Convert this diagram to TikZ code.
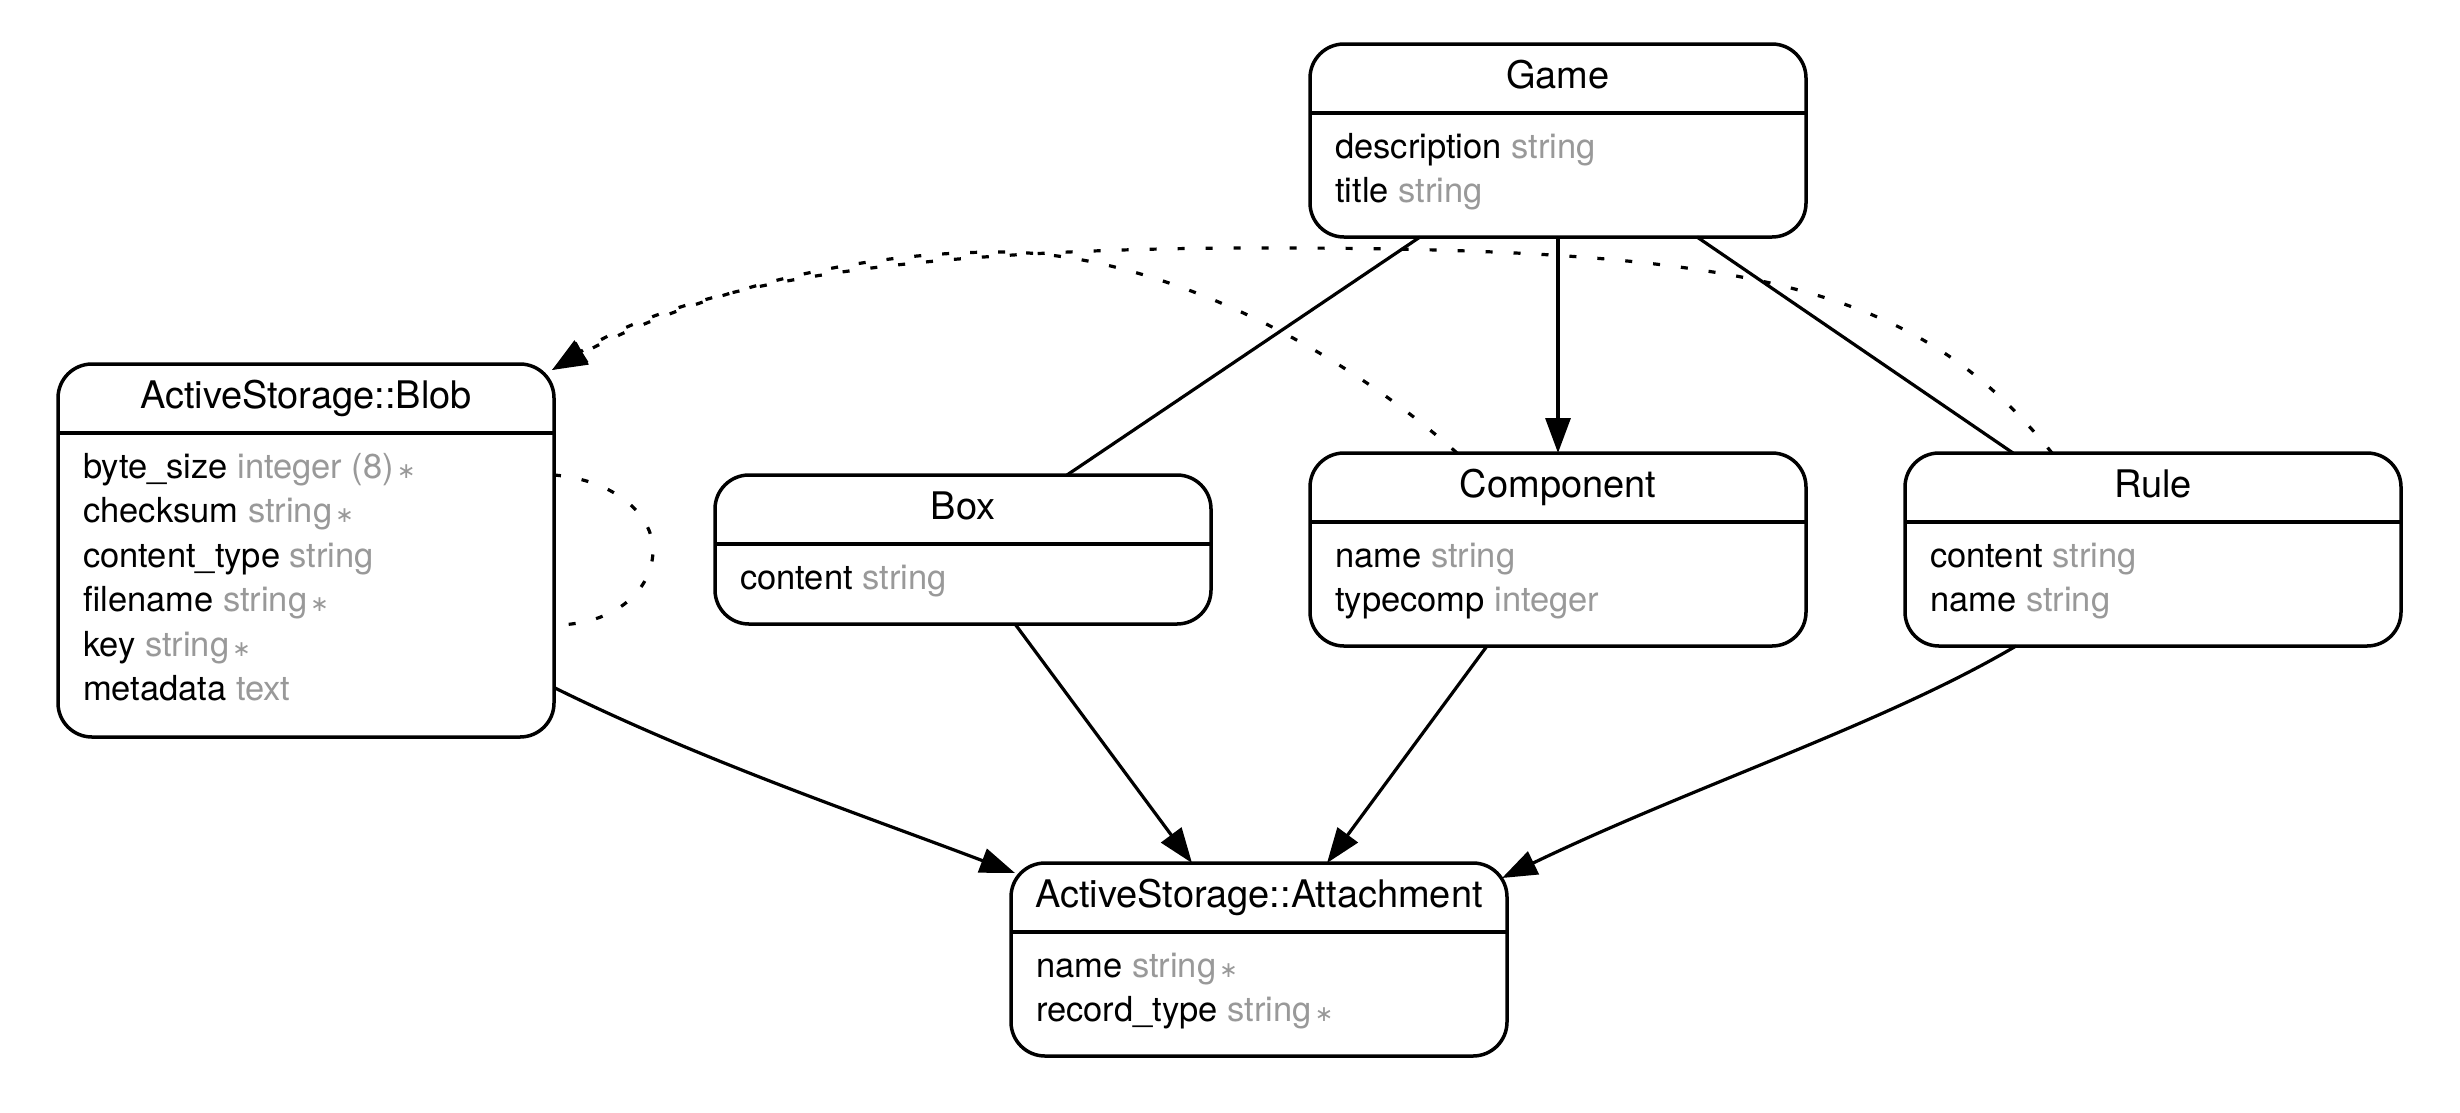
\documentclass[tikz,border=0pt]{standalone}
\usepackage{fontspec}
\setmainfont{TeX Gyre Heros}
\newfontfamily\erdsymfont{DejaVu Sans}
\usetikzlibrary{arrows.meta,calc}
\definecolor{attrgray}{RGB}{153,153,153}
\newcommand\erdtype[1]{\textcolor{attrgray}{#1}}
\newcommand\erdstar{\hspace{3pt}{\erdsymfont\fontsize{22pt}{22pt}\selectfont\textcolor{attrgray}{∗}}}
\tikzset{
  entity/.style={draw, line width=3.5pt, rounded corners=34pt, minimum width=496pt, inner sep=0pt, outer sep=0pt, anchor=north west},
  hdr/.style={line width=3.5pt},
  etitle/.style={anchor=base, inner sep=0pt, font=\fontsize{38pt}{40pt}\selectfont},
  erow/.style={anchor=base west, inner sep=0pt, font=\fontsize{34.5pt}{40pt}\selectfont},
  rel/.style={line width=3.2pt},
  relarrow/.style={line width=3.2pt, -{Triangle[length=35pt,width=25pt]}},
  dotrel/.style={line width=3.2pt, dash pattern=on 7pt off 21pt},
  dotarrow/.style={line width=3.2pt, dash pattern=on 7pt off 21pt, -{Triangle[length=35pt,width=25pt]}}
}
\begin{document}
\begin{tikzpicture}[x=1pt,y=-1pt]
\path[use as bounding box, fill=white] (0,0) rectangle (2460,1112);

% Game
\node[entity, minimum height=193pt] (game) at (1310,44) {};
\draw[hdr] ($(game.north west)+(0,69)$) -- ($(game.north east)+(0,69)$);
\node[etitle] (game-t) at (1558,88) {Game};
\node[erow] (game-r1) at (1335,158) {description \erdtype{string}};
\node[erow] (game-r2) at (1335,202.5) {title \erdtype{string}};

% Blob
\node[entity, minimum height=373pt] (blob) at (58,364) {};
\draw[hdr] ($(blob.north west)+(0,69)$) -- ($(blob.north east)+(0,69)$);
\node[etitle] (blob-t) at (306,408) {ActiveStorage::Blob};
\node[erow] (blob-r1) at (83,478) {byte\_size \erdtype{integer (8)}\erdstar};
\node[erow] (blob-r2) at (83,522.5) {checksum \erdtype{string}\erdstar};
\node[erow] (blob-r3) at (83,567) {content\_type \erdtype{string}};
\node[erow] (blob-r4) at (83,611.5) {filename \erdtype{string}\erdstar};
\node[erow] (blob-r5) at (83,656) {key \erdtype{string}\erdstar};
\node[erow] (blob-r6) at (83,700.5) {metadata \erdtype{text}};

% Box
\node[entity, minimum height=149pt] (box) at (715,475) {};
\draw[hdr] ($(box.north west)+(0,69)$) -- ($(box.north east)+(0,69)$);
\node[etitle] (box-t) at (963,519) {Box};
\node[erow] (box-r1) at (740,589) {content \erdtype{string}};

% Component
\node[entity, minimum height=193pt] (comp) at (1310,453) {};
\draw[hdr] ($(comp.north west)+(0,69)$) -- ($(comp.north east)+(0,69)$);
\node[etitle] (comp-t) at (1558,497) {Component};
\node[erow] (comp-r1) at (1335,567) {name \erdtype{string}};
\node[erow] (comp-r2) at (1335,611.5) {typecomp \erdtype{integer}};

% Rule
\node[entity, minimum height=193pt] (rule) at (1905,453) {};
\draw[hdr] ($(rule.north west)+(0,69)$) -- ($(rule.north east)+(0,69)$);
\node[etitle] (rule-t) at (2153,497) {Rule};
\node[erow] (rule-r1) at (1930,567) {content \erdtype{string}};
\node[erow] (rule-r2) at (1930,611.5) {name \erdtype{string}};

% Attachment
\node[entity, minimum height=193pt] (att) at (1011,863) {};
\draw[hdr] ($(att.north west)+(0,69)$) -- ($(att.north east)+(0,69)$);
\node[etitle] (att-t) at (1259,907) {ActiveStorage::Attachment};
\node[erow] (att-r1) at (1036,977) {name \erdtype{string}\erdstar};
\node[erow] (att-r2) at (1036,1021.5) {record\_type \erdtype{string}\erdstar};

% connector end points
\coordinate (gBox) at ($(game.south west)+(110,0)$);
\coordinate (gRule) at ($(game.south west)+(387,0)$);
\coordinate (boxTop) at ($(box.north west)+(352,0)$);
\coordinate (ruleTop) at ($(rule.north west)+(108,0)$);
\coordinate (boxBot) at ($(box.south west)+(300,0)$);
\coordinate (attA) at ($(att.north west)+(181,0)$);
\coordinate (compBot) at ($(comp.south west)+(177,0)$);
\coordinate (attB) at ($(att.north west)+(316,0)$);
\coordinate (ruleBot) at ($(rule.south west)+(111,0)$);
\coordinate (attC) at ($(att.north east)+(-5,15)$);
\coordinate (blobSide) at ($(blob.north east)+(1,324)$);
\coordinate (attD) at ($(att.north west)+(4,10)$);
\coordinate (compDot) at ($(comp.north west)+(147,0)$);
\coordinate (ruleDot) at ($(rule.north west)+(147,0)$);
\coordinate (blobTip) at ($(blob.north east)+(-2,6)$);
\coordinate (loopA) at ($(blob.north east)+(0,111)$);
\coordinate (loopB) at ($(blob.north east)+(0,261)$);

% solid relations
\draw[rel] (gBox) -- (boxTop);
\draw[rel] (gRule) -- (ruleTop);
\draw[relarrow] (game.south) -- (comp.north);
\draw[relarrow] (boxBot) -- (attA);
\draw[relarrow] (compBot) -- (attB);
\draw[relarrow] (ruleBot) .. controls (1886,723) and (1693,786) .. (attC);
\draw[relarrow] (blobSide) .. controls (705,762) and (865,816) .. (attD);

% dotted relations
\draw[dotarrow] (compDot) .. controls (1330,340) and (1150,252) .. (1000,252)
   .. controls (820,252) and (662,310) .. (blobTip);
\draw[dotarrow] (ruleDot) .. controls (1920,290) and (1760,250) .. (1300,248)
   .. controls (950,246) and (700,275) .. (blobTip);
\draw[dotrel] (loopA) .. controls (615,480) and (653,515) .. (653,550)
   .. controls (653,590) and (615,625) .. (loopB);
\end{tikzpicture}
\end{document}
